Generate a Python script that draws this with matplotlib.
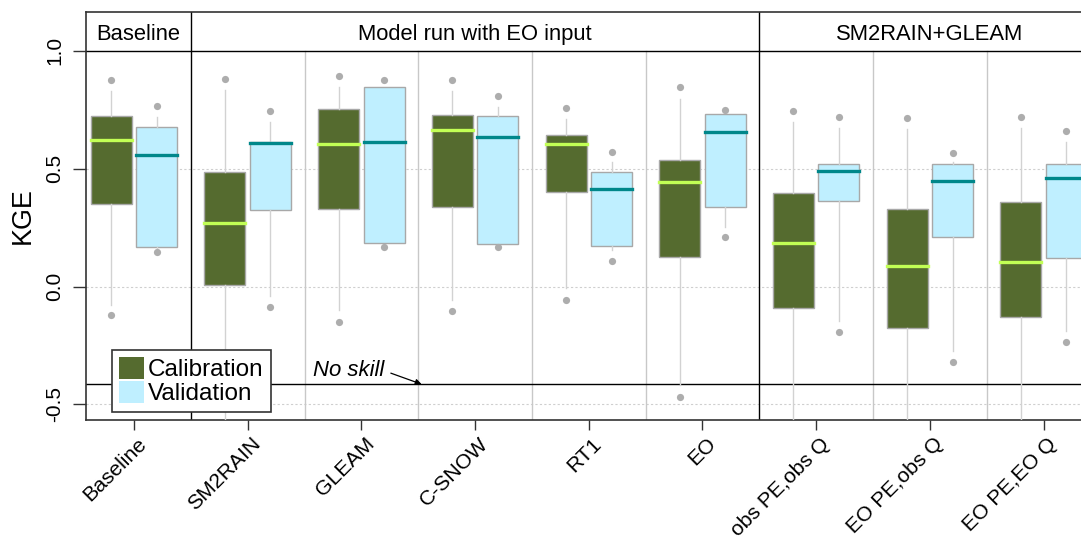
import numpy as np
import matplotlib
matplotlib.use("Agg")
import matplotlib.pyplot as plt
from matplotlib.patches import Patch
from matplotlib.transforms import ScaledTranslation

plt.rcParams['font.family'] = ['Liberation Sans', 'DejaVu Sans']

categories = ["Baseline", "SM2RAIN", "GLEAM", "C-SNOW", "RT1", "EO",
              "obs PE,obs Q", "EO PE,obs Q", "EO PE,EO Q"]
group_names = ["Baseline", "Model run with EO input", "SM2RAIN+GLEAM"]
group_first = [0, 1, 6]
group_last = [0, 5, 8]

# Calibration statistics (low dot, low whisker, q25, median, q75, high whisker, high dot)
cal_dot_lo = [-0.12, -0.75, -0.151, -0.103, -0.055, -0.469, -0.75, -0.75, -0.75]
cal_wh_lo = [-0.08, -0.70, -0.10, -0.056, -0.007, -0.417, -0.70, -0.70, -0.70]
cal_q25 = [0.35, 0.007, 0.329, 0.338, 0.40, 0.126, -0.092, -0.174, -0.131]
cal_med = [0.622, 0.268, 0.607, 0.663, 0.603, 0.444, 0.184, 0.089, 0.103]
cal_q75 = [0.723, 0.487, 0.754, 0.729, 0.644, 0.536, 0.398, 0.33, 0.358]
cal_wh_hi = [0.83, 0.833, 0.847, 0.83, 0.711, 0.798, 0.699, 0.668, 0.672]
cal_dot_hi = [0.876, 0.88, 0.894, 0.876, 0.757, 0.846, 0.747, 0.716, 0.72]

# Validation statistics
val_dot_lo = [0.148, -0.085, 0.167, 0.168, 0.109, 0.211, -0.193, -0.319, -0.236]
val_wh_lo = [0.165, -0.04, 0.184, 0.181, 0.155, 0.254, -0.148, -0.272, -0.19]
val_q25 = [0.17, 0.325, 0.184, 0.181, 0.171, 0.336, 0.363, 0.212, 0.12]
val_med = [0.558, 0.61, 0.613, 0.636, 0.414, 0.654, 0.489, 0.448, 0.462]
val_q75 = [0.678, 0.614, 0.845, 0.725, 0.485, 0.733, 0.519, 0.519, 0.519]
val_wh_hi = [0.72, 0.698, 0.845, 0.763, 0.527, 0.733, 0.672, 0.53, 0.613]
val_dot_hi = [0.766, 0.744, 0.875, 0.809, 0.572, 0.749, 0.72, 0.568, 0.661]

no_skill = 1 - np.sqrt(2)
yticks = [-0.5, 0.0, 0.5, 1.0]

CAL_FILL = "#556B2F"
CAL_MED = "#C2FF55"
VAL_FILL = "#BFEFFF"
VAL_MED = "#00878A"

fig = plt.figure(figsize=(10.81, 5.37), dpi=100)
ax = fig.add_axes([86 / 1081, 117 / 537, 995 / 1081, 408 / 537])
x = np.arange(len(categories))
xmin, xmax = -0.422, -0.422 + 995 / 113.7
ymin, ymax = -0.566, 1.165
ax.set_xlim(xmin, xmax)
ax.set_ylim(ymin, ymax)


def make_stats(lo_d, lo_w, q1, med, q3, hi_w, hi_d):
    return [dict(med=m, q1=a, q3=b, whislo=wl, whishi=wh, fliers=[dl, dh])
            for dl, wl, a, m, b, wh, dh in zip(lo_d, lo_w, q1, med, q3, hi_w, hi_d)]


common = dict(widths=0.36, patch_artist=True, showcaps=False, manage_ticks=False,
              whiskerprops=dict(color="#D2D2D2", linewidth=1.0),
              flierprops=dict(marker='o', markerfacecolor="#ADADAD",
                              markeredgecolor="none", markersize=5.2))
ax.bxp(make_stats(cal_dot_lo, cal_wh_lo, cal_q25, cal_med, cal_q75, cal_wh_hi, cal_dot_hi),
       positions=x - 0.2,
       boxprops=dict(facecolor=CAL_FILL, edgecolor="#A8A8A8", linewidth=1.0),
       medianprops=dict(color=CAL_MED, linewidth=2.4, solid_capstyle='projecting'),
       zorder=3, **common)
ax.bxp(make_stats(val_dot_lo, val_wh_lo, val_q25, val_med, val_q75, val_wh_hi, val_dot_hi),
       positions=x + 0.2,
       boxprops=dict(facecolor=VAL_FILL, edgecolor="#A8A8A8", linewidth=1.0),
       medianprops=dict(color=VAL_MED, linewidth=2.4, solid_capstyle='projecting'),
       zorder=3, **common)

# grid
for yv in [-0.5, 0.0, 0.5]:
    ax.axhline(yv, color="#CFCFCF", linewidth=0.8, linestyle=(0, (2, 2)), zorder=1)

# separators
for gi, (a, b) in enumerate(zip(group_first, group_last)):
    for k in range(a, b):
        ax.plot([k + 0.5, k + 0.5], [ymin, 1.0], color="#C8C8C8", linewidth=1.0, zorder=1)
    if a > 0:
        ax.axvline(a - 0.5, color="black", linewidth=1.0, zorder=2)
    left = max(a - 0.5, xmin)
    right = b + 0.5
    ax.text((left + right) / 2, 1.048, group_names[gi], ha='center', va='baseline',
            fontsize=15.8)
ax.axhline(1.0, color="black", linewidth=1.0, zorder=2)

# no skill line
ax.axhline(no_skill, color="black", linewidth=1.0, zorder=2)
ax.annotate("No skill", xy=(2.53, no_skill), xytext=(2.2, -0.357),
            ha='right', va='center', fontsize=15.9, style='italic',
            arrowprops=dict(arrowstyle='-|>', color='black', lw=0.9,
                            shrinkA=3, shrinkB=0, mutation_scale=9,
                            relpos=(1.0, 0.5)), zorder=4)

# axes styling
for s in ['left', 'bottom', 'top']:
    ax.spines[s].set_color('#333333')
    ax.spines[s].set_linewidth(1.2)
ax.spines['right'].set_visible(False)

ax.set_yticks(yticks)
ax.set_yticklabels([f"{v:.1f}" for v in yticks], rotation=90, va='center', fontsize=15)
ax.tick_params(axis='y', length=9.5, width=1.0, color='#333333', pad=6)
ax.set_xticks(x)
ax.set_xticklabels(categories, rotation=45, ha='right', va='center',
                   rotation_mode='anchor', fontsize=15.2)
ax.tick_params(axis='x', length=7.5, width=1.0, color='#333333', pad=7.5)
offset = ScaledTranslation(10 / 100, 0, fig.dpi_scale_trans)
for lab in ax.get_xticklabels():
    lab.set_transform(lab.get_transform() + offset)

ax.set_ylabel("KGE", fontsize=19.4)
ax.yaxis.set_label_coords((23 - 86) / 995, 0.5)
ax.yaxis.label.set_verticalalignment('center')

handles = [Patch(facecolor=CAL_FILL, edgecolor='none', label='Calibration'),
           Patch(facecolor=VAL_FILL, edgecolor='none', label='Validation')]
leg = ax.legend(handles=handles, loc='lower left',
                bbox_to_anchor=((112 - 86) / 995, (420 - 412) / 408),
                borderaxespad=0, fontsize=17.5, handlelength=1.03, handleheight=1.0,
                handletextpad=0.18, labelspacing=0.0, borderpad=0.28,
                fancybox=False, framealpha=1, edgecolor='#333333')
leg.get_frame().set_linewidth(1.2)
leg.set_zorder(5)

fig.savefig("out.png", dpi=100)
